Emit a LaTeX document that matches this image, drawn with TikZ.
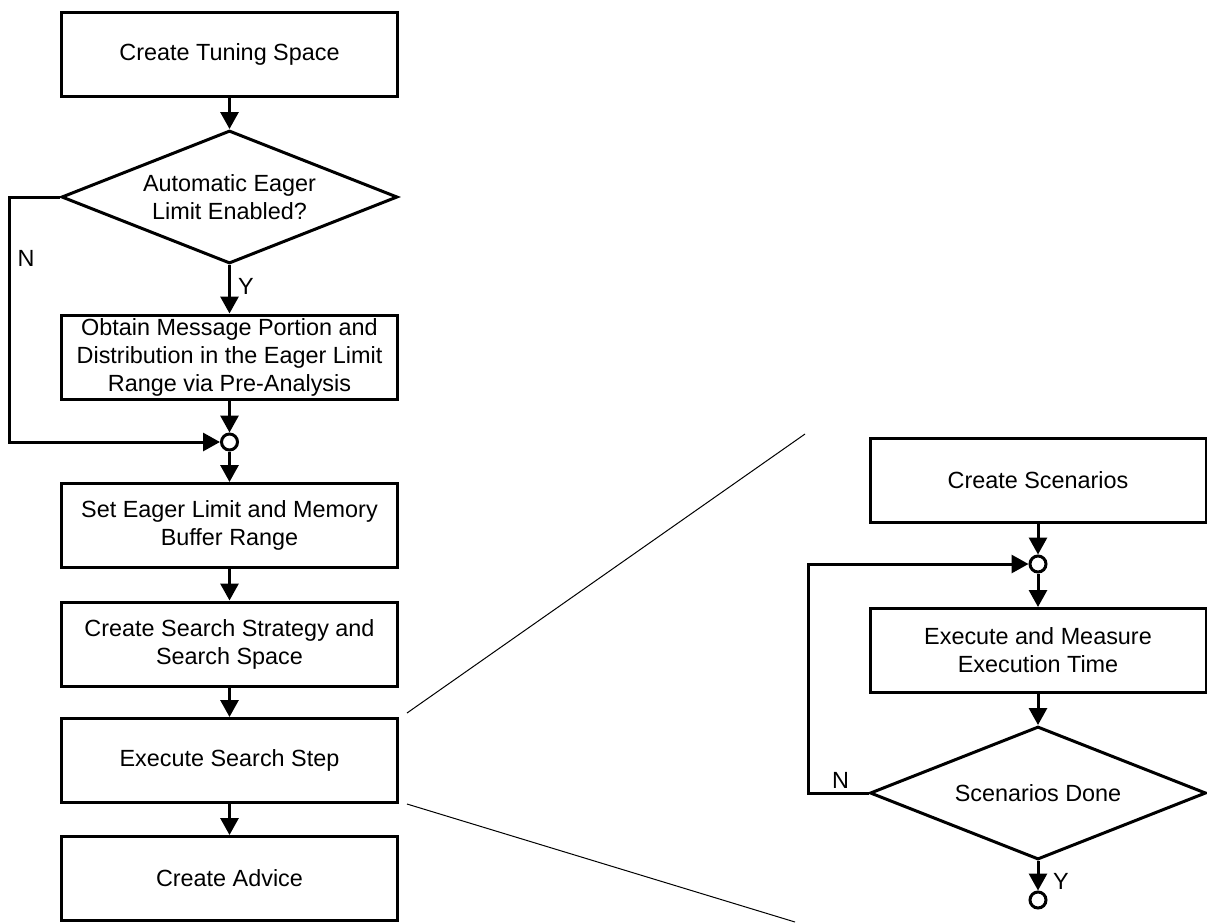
\documentclass[tikz,border=0pt]{standalone}
\usepackage{fontspec}
\setmainfont{Liberation Sans}
\usetikzlibrary{arrows.meta,shapes.geometric}

\tikzset{
  stepbox/.style={draw, line width=3pt, rectangle, minimum width=336pt, minimum height=84pt,
    inner sep=0pt, align=center},
  decision/.style={draw, line width=3pt, diamond, aspect=2.53, minimum width=336pt,
    minimum height=133pt, inner sep=0pt, align=center},
  junction/.style={draw, line width=3pt, circle, minimum size=16pt, inner sep=0pt, fill=white},
  flow/.style={line width=3pt, -{Triangle[length=17pt,width=18pt]}},
  tag/.style={inner sep=0pt},
  zoomline/.style={line width=1pt}
}

\begin{document}
\begin{tikzpicture}[x=1pt, y=-1pt, font=\fontsize{23.4}{28}\selectfont]
\useasboundingbox (0,0) rectangle (1207,922);

% main tuning flow
\node[stepbox]  (tune)   at (229.5,54)    {Create Tuning Space};
\node[decision] (dec1)   at (229.5,197)   {Automatic Eager\\Limit Enabled?};
\node[stepbox]  (obtain) at (229.5,357)   {Obtain Message Portion and\\Distribution in the Eager Limit\\Range via Pre-Analysis};
\node[junction] (j1)     at (229.5,442)   {};
\node[stepbox]  (set)    at (229.5,525.5) {Set Eager Limit and Memory\\Buffer Range};
\node[stepbox]  (strat)  at (229.5,644)   {Create Search Strategy and\\Search Space};
\node[stepbox]  (exec)   at (229.5,760.5) {Execute Search Step};
\node[stepbox]  (advice) at (229.5,878.5) {Create Advice};

\draw[flow] (tune) -- (dec1);
\draw[flow] (dec1) -- (obtain);
\draw[flow] (obtain) -- (j1);
\draw[flow] (j1) -- (set);
\draw[flow] (set) -- (strat);
\draw[flow] (strat) -- (exec);
\draw[flow] (exec) -- (advice);
\draw[flow] (dec1.west) -- ++(-51,0) |- (j1);

\node[tag] (ny1) at (26,258)  {N};
\node[tag] (yy1) at (246,286) {Y};

% detail of the search step
\node[stepbox]  (scen) at (1038,480)   {Create Scenarios};
\node[junction] (j2)   at (1038,564)   {};
\node[stepbox]  (meas) at (1038,650.5) {Execute and Measure\\Execution Time};
\node[decision] (dec2) at (1038,793)   {Scenarios Done};
\node[junction] (j3)   at (1038,900)   {};

\draw[flow] (scen) -- (j2);
\draw[flow] (j2) -- (meas);
\draw[flow] (meas) -- (dec2);
\draw[flow] (dec2) -- (j3);
\draw[flow] (dec2.west) -- ++(-60,0) |- (j2);

\node[tag] (ny2) at (840.5,780) {N};
\node[tag] (yy2) at (1061,881)  {Y};

% zoom lines from the search step to its detail
\coordinate (zu0) at (407,713);
\coordinate (zu1) at (805,434);
\coordinate (zl0) at (407,804);
\coordinate (zl1) at (795,922);
\draw[zoomline] (zu0) -- (zu1);
\draw[zoomline] (zl0) -- (zl1);
\end{tikzpicture}
\end{document}
